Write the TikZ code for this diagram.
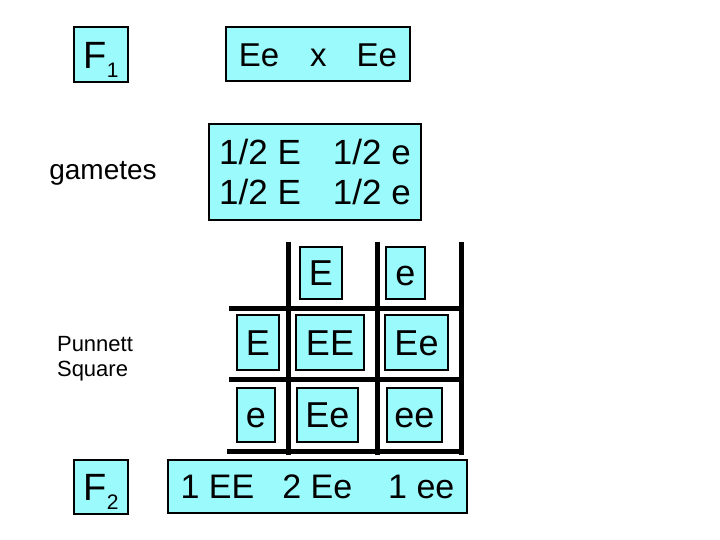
\documentclass[tikz,border=0pt]{standalone}
\usepackage{fontspec}
\setmainfont{Liberation Sans}
\definecolor{punnettcyan}{RGB}{155,250,252}
\tikzset{
  genebox/.style={draw=black,line width=2pt,fill=punnettcyan,inner sep=0pt,
    font=\fontsize{36}{40}\selectfont},
  capfit/.style={text height=#1,text depth=0pt},
  capfit/.default=25.8pt,
  gridline/.style={draw=black,line width=5pt},
  sidelabel/.style={inner sep=0pt,align=left},
}
\newcommand{\genfont}[1]{\fontsize{#1}{#1}\selectfont}
\begin{document}
\begin{tikzpicture}[x=1pt,y=-1pt]
\useasboundingbox (0,0) rectangle (720,540) ;
% left column
\node [genebox,capfit=27.2pt,minimum width=54pt,minimum height=55pt,font=\genfont{38}] (F1) at (101,54.5) {F\raisebox{-9pt}{\genfont{21}1}} ;
\node [sidelabel,font=\genfont{28}] (gam) at (103,173) {gametes} ;
\node [sidelabel,font=\fontsize{22}{25}\selectfont] (pun) at (95,359) {Punnett\\Square} ;
\node [genebox,capfit=27.2pt,minimum width=54pt,minimum height=54pt,font=\genfont{38}] (F2) at (101,487) {F\raisebox{-9pt}{\genfont{21}2}} ;
% cross and gametes
\node [genebox,capfit=23.6pt,minimum width=184pt,minimum height=54pt,font=\genfont{33}] (cross) at (318,54.5) {Ee\hspace{31pt}x\hspace{30pt}Ee} ;
\node [genebox,minimum width=212pt,minimum height=96pt,align=center,font=\fontsize{35}{40}\selectfont] (half) at (315,172) {1/2 E\hspace{32pt}1/2 e\\1/2 E\hspace{32pt}1/2 e} ;
% the square
\foreach \gx in {288,377,461}
  \draw [gridline] (\gx,242) -- (\gx,455) ;
\foreach \gy in {308,379}
  \draw [gridline] (229,\gy) -- (463,\gy) ;
\draw [gridline] (227,451) -- (463,451) ;
\node [genebox,capfit,minimum width=42pt,minimum height=52pt] (colE) at (321,273) {E} ;
\node [genebox,capfit,minimum width=39pt,minimum height=52pt] (cole) at (405.5,273) {e} ;
\node [genebox,capfit,minimum width=42pt,minimum height=55pt] (rowE) at (258,342.5) {E} ;
\node [genebox,capfit,minimum width=68pt,minimum height=55pt] (EE) at (330,342.5) {EE} ;
\node [genebox,capfit,minimum width=63pt,minimum height=55pt] (Ee) at (416.5,342.5) {Ee} ;
\node [genebox,capfit,minimum width=38pt,minimum height=54pt] (rowe) at (256,415) {e} ;
\node [genebox,capfit,minimum width=61pt,minimum height=54pt] (eE) at (327.5,415) {Ee} ;
\node [genebox,capfit,minimum width=55pt,minimum height=54pt] (ee) at (414.5,415) {ee} ;
% offspring ratio
\node [genebox,capfit=24.3pt,minimum width=299pt,minimum height=53pt,font=\genfont{34}] (ratio) at (317.5,486.5) {1 EE\hspace{28pt}2 Ee\hspace{36pt}1 ee} ;
\end{tikzpicture}
\end{document}
